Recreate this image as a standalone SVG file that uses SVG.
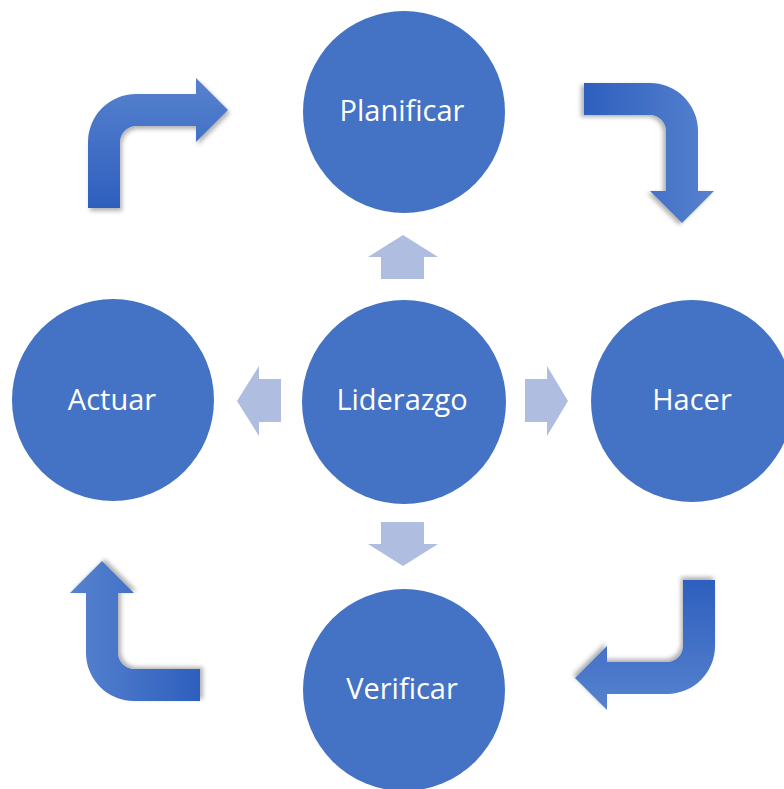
<svg xmlns="http://www.w3.org/2000/svg" width="784" height="789" viewBox="0 0 784 789">
  <defs>
    <linearGradient id="bentGrad" gradientUnits="userSpaceOnUse" x1="0" y1="114" x2="0" y2="-16">
      <stop offset="0" stop-color="#2E5FBE"/>
      <stop offset="1" stop-color="#5782CE"/>
    </linearGradient>
    <filter id="shadow" x="-20%" y="-20%" width="150%" height="150%">
      <feDropShadow dx="2" dy="3" stdDeviation="2" flood-color="#000" flood-opacity="0.3"/>
    </filter>
    <path id="bent" d="M0,114 L0,48 A48,48 0 0 1 48,0 L108,0 L108,-16 L140,16 L108,48 L108,32 L48,32 A16,16 0 0 0 32,48 L32,114 Z"/>
  </defs>
  <style>
    .node { fill: #4472C4; }
    .label { fill: #FFFFFF; font-family: "Open Sans", "Liberation Sans", sans-serif; font-size: 29px; text-anchor: middle; }
    .small { fill: #AFBDE0; }
    .bent { fill: url(#bentGrad); filter: url(#shadow); }
  </style>
  <rect width="784" height="789" fill="#FFFFFF"/>
  <g id="connectors">
    <polygon class="small" points="403,235 438,257 424,257 424,279 381,279 381,257 368,257"/>
    <polygon class="small" points="403,566 438,544 424,544 424,522 381,522 381,544 368,544"/>
    <polygon class="small" points="237,401 259,366 259,379 281,379 281,422 259,422 259,436"/>
    <polygon class="small" points="568,401 547,366 547,379 525,379 525,422 547,422 547,436"/>
    <use href="#bent" class="bent" transform="translate(88,94)"/>
    <use href="#bent" class="bent" transform="translate(698,83) rotate(90)"/>
    <use href="#bent" class="bent" transform="translate(715,694) rotate(180)"/>
    <use href="#bent" class="bent" transform="translate(86,701) rotate(270)"/>
  </g>
  <g id="planificar">
    <circle class="node" cx="404" cy="112" r="101"/>
    <text class="label" x="402" y="121">Planificar</text>
  </g>
  <g id="hacer">
    <circle class="node" cx="692" cy="401" r="101"/>
    <text class="label" x="692" y="410">Hacer</text>
  </g>
  <g id="verificar">
    <circle class="node" cx="404" cy="690" r="101"/>
    <text class="label" x="402" y="699">Verificar</text>
  </g>
  <g id="actuar">
    <circle class="node" cx="113" cy="400" r="101"/>
    <text class="label" x="112" y="410">Actuar</text>
  </g>
  <g id="liderazgo">
    <circle class="node" cx="404" cy="402" r="102"/>
    <text class="label" x="402" y="410">Liderazgo</text>
  </g>
</svg>
